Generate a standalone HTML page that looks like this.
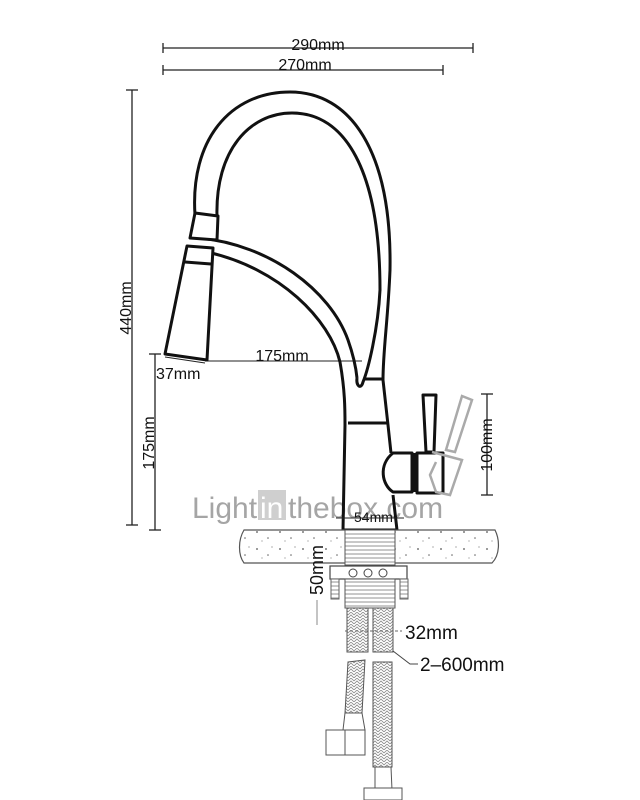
<!DOCTYPE html>
<html><head><meta charset="utf-8"><style>
html,body{margin:0;padding:0;background:#fff;}
svg{display:block}
text{font-family:"Liberation Sans",sans-serif;fill:#111}
</style></head><body>
<svg width="640" height="800" viewBox="0 0 640 800" xmlns="http://www.w3.org/2000/svg">
<defs>
<pattern id="braid" width="6" height="6" patternUnits="userSpaceOnUse">
<rect width="6" height="6" fill="#fff"/>
<path d="M0 3 L3 0 L6 3 M0 6 L3 3 L6 6" stroke="#888" stroke-width="0.8" fill="none"/>
</pattern>
<pattern id="thread" width="6" height="4" patternUnits="userSpaceOnUse">
<rect width="6" height="4" fill="#fff"/>
<line x1="0" y1="2" x2="6" y2="2" stroke="#777" stroke-width="0.8"/>
</pattern>
<pattern id="stone" width="23" height="17" patternUnits="userSpaceOnUse">
<rect width="23" height="17" fill="#fff"/>
<circle cx="4" cy="5" r="0.9" fill="#555"/><circle cx="15" cy="11" r="0.8" fill="#666"/><circle cx="19" cy="3" r="0.6" fill="#777"/><circle cx="9" cy="14" r="0.6" fill="#888"/>
</pattern>
</defs>
<g stroke="#222" stroke-width="1.3" fill="none">
<line x1="163" y1="48" x2="473" y2="48"/><line x1="163" y1="43" x2="163" y2="53"/><line x1="473" y1="43" x2="473" y2="53"/>
<line x1="163" y1="70" x2="443" y2="70"/><line x1="163" y1="65" x2="163" y2="75"/><line x1="443" y1="65" x2="443" y2="75"/>
<line x1="132" y1="90" x2="132" y2="525"/><line x1="126" y1="90" x2="138" y2="90"/><line x1="126" y1="525" x2="138" y2="525"/>
<line x1="155" y1="354" x2="155" y2="530"/><line x1="149" y1="354" x2="161" y2="354"/><line x1="149" y1="530" x2="161" y2="530"/>
<line x1="487" y1="394" x2="487" y2="495"/><line x1="481" y1="394" x2="493" y2="394"/><line x1="481" y1="495" x2="493" y2="495"/>
<line x1="205" y1="361" x2="362" y2="361" stroke-width="1"/>
<line x1="165" y1="357" x2="205" y2="363" stroke-width="1"/>
</g>
<text x="318" y="50" font-size="16" text-anchor="middle">290mm</text>
<text x="305" y="70" font-size="16" text-anchor="middle">270mm</text>
<text transform="translate(131,308) rotate(-90)" font-size="16" text-anchor="middle">440mm</text>
<text transform="translate(154,443) rotate(-90)" font-size="16" text-anchor="middle">175mm</text>
<text transform="translate(492,445) rotate(-90)" font-size="16" text-anchor="middle">100mm</text>
<text x="282" y="361" font-size="16" text-anchor="middle">175mm</text>
<text x="156" y="379" font-size="16">37mm</text>

<!-- watermark -->
<text x="192" y="518" font-size="30" style="fill:#a5a5a5">Light</text>
<rect x="258" y="490" width="28" height="30" fill="#cfcfcf"/>
<text x="260" y="518" font-size="30" style="fill:#fff">in</text>
<text x="288" y="518" font-size="30" style="fill:#a5a5a5">thebox.com</text>

<g stroke="#111" stroke-width="3" fill="none" stroke-linejoin="round">
<path d="M195 215 C190 140 230 92 290 92 C350 92 392 150 390 270 C388 320 383 350 383 380"/>
<path d="M217 217 C215 150 250 113 292 113 C345 113 380 170 380 290 C378 330 368 370 363 382 C361 390 356 386 357 378"/>
<path d="M200 238 C270 245 330 290 348 340 C354 357 356 368 357 378"/>
<path d="M207 252 C280 268 330 320 340 362 C345 390 345 410 345 425 L343 530 L397 530 L393 495"/>
<path d="M383 380 L388 425 L391 453"/>
<line x1="348" y1="423" x2="388" y2="423"/>
<line x1="363" y1="379" x2="383" y2="379"/>
<path d="M195 213 L218 216 L217 240 L190 238 Z" fill="#fff"/>
<path d="M187 246 L213 248 L207 360 L165 354 Z" fill="#fff"/>
<line x1="185" y1="262" x2="211" y2="264"/>
<path d="M393 453 L412 453 L412 492 L393 492 C382 485 378 465 393 453 Z" fill="#fff"/>
<rect x="417" y="453" width="26" height="40" fill="#fff"/>
<line x1="414" y1="453" x2="414" y2="492"/>
<path d="M423 395 L436 395 L434 452 L426 452 Z" fill="#fff"/>
</g>
<g stroke="#aaa" stroke-width="2.5" fill="none">
<path d="M462 396 L472 400 L455 452 L446 450 Z"/>
<path d="M432 452 L462 460 L450 495 L436 492 L430 475 L436 462"/>
</g>
<text x="354" y="522" font-size="14">54mm</text>
<line x1="336" y1="518" x2="404" y2="518" stroke="#222" stroke-width="1"/>

<path d="M244 530 L495 530 C500 540 500 555 492 563 L244 563 C238 555 238 540 244 530 Z" fill="url(#stone)" stroke="#555" stroke-width="1.2"/>
<rect x="345" y="530" width="50" height="35" fill="url(#thread)" stroke="#555" stroke-width="1"/>
<rect x="330" y="566" width="77" height="13" fill="#fff" stroke="#444" stroke-width="1.2"/>
<circle cx="353" cy="573" r="4" fill="none" stroke="#444"/><circle cx="368" cy="573" r="4" fill="none" stroke="#444"/><circle cx="383" cy="573" r="4" fill="none" stroke="#444"/>
<rect x="345" y="579" width="50" height="29" fill="url(#thread)" stroke="#555" stroke-width="1"/>
<rect x="331" y="579" width="8" height="20" fill="url(#thread)" stroke="#666"/>
<rect x="400" y="579" width="8" height="20" fill="url(#thread)" stroke="#666"/>
<rect x="347" y="608" width="21" height="44" fill="url(#braid)" stroke="#555"/>
<rect x="373" y="608" width="20" height="44" fill="url(#braid)" stroke="#555"/>
<path d="M348 662 L365 660 L362 713 L345 713 Z" fill="url(#braid)" stroke="#555"/>
<rect x="373" y="662" width="19" height="105" fill="url(#braid)" stroke="#555"/>
<path d="M345 713 L362 713 L365 730 L343 730 Z" fill="#fff" stroke="#555"/>
<rect x="326" y="730" width="39" height="25" fill="#fff" stroke="#555"/>
<line x1="345" y1="730" x2="345" y2="755" stroke="#555"/>
<path d="M375 767 L391 767 L392 790 L375 790 Z" fill="#fff" stroke="#555"/>
<rect x="364" y="788" width="38" height="12" fill="#fff" stroke="#555"/>
<text transform="translate(323,570) rotate(-90)" font-size="18" text-anchor="middle">50mm</text>
<line x1="317" y1="600" x2="317" y2="625" stroke="#888" stroke-width="1"/>
<line x1="345" y1="631" x2="402" y2="631" stroke="#666" stroke-width="1" stroke-dasharray="3,2"/>
<text x="405" y="639" font-size="19">32mm</text>
<path d="M393 651 L410 664 L418 664" stroke="#444" fill="none"/>
<text x="420" y="671" font-size="19">2–600mm</text>
</svg>
</body></html>
